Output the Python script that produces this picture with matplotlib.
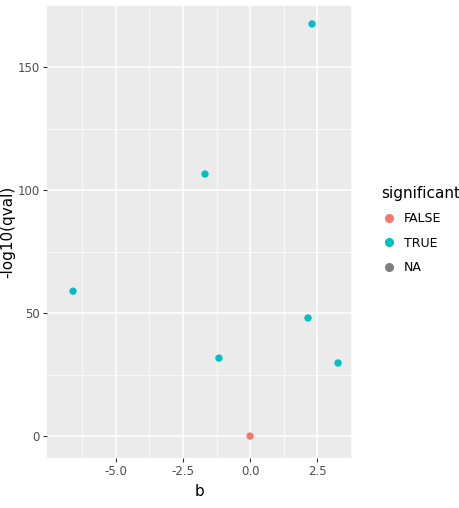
import matplotlib
matplotlib.use("Agg")
import matplotlib.pyplot as plt
from matplotlib.lines import Line2D

b = [-6.6, -1.68, 2.31, -1.16, 2.16, 3.28, 0.0]
qval = [58.9, 106.5, 167.5, 31.7, 48.0, 29.7, 0.0]
significant = ["TRUE", "TRUE", "TRUE", "TRUE", "TRUE", "TRUE", "FALSE"]
colors = {"FALSE": "#F8766D", "TRUE": "#00BFC4", "NA": "#7F7F7F"}

fig = plt.figure(figsize=(4.6, 5.08), dpi=100)
ax = fig.add_axes([47/460, 50/508, 305/460, 453/508])
ax.set_facecolor("#EBEBEB")
ax.scatter(b, qval, c=[colors[s] for s in significant], s=28, zorder=3, linewidths=0)
ax.set_xlim(-7.57, 3.8)
ax.set_ylim(-8.9, 175.2)
ax.set_xticks([-5.0, -2.5, 0.0, 2.5])
ax.set_xticklabels(["-5.0", "-2.5", "0.0", "2.5"])
ax.set_yticks([0, 50, 100, 150])
ax.set_xticks([-6.25, -3.75, -1.25, 1.25, 3.75], minor=True)
ax.set_yticks([25, 75, 125, 175], minor=True)
ax.grid(True, which="major", color="white", linewidth=1.1)
ax.grid(True, which="minor", color="white", linewidth=0.5)
ax.set_axisbelow(True)
for s in ax.spines.values():
    s.set_visible(False)
ax.tick_params(which="both", length=3, pad=2, color="#333333", labelsize=8.5, labelcolor="#4D4D4D")
ax.tick_params(which="minor", length=0)
ax.set_xlabel("b", fontsize=11)
ax.set_ylabel("-log10(qval)", fontsize=11, labelpad=2)

handles = [Line2D([], [], marker="o", linestyle="", color=colors[k], markersize=5.5) for k in ["FALSE", "TRUE", "NA"]]
leg = fig.legend(handles, ["FALSE", "TRUE", "NA"], title="significant", loc="upper left",
                 bbox_to_anchor=(370/460, 1-175/508), frameon=False, fontsize=9,
                 title_fontsize=11, handletextpad=0.6, labelspacing=0.9, handlelength=1.2)
leg._legend_box.align = "left"
fig.savefig("out.png", dpi=100)
